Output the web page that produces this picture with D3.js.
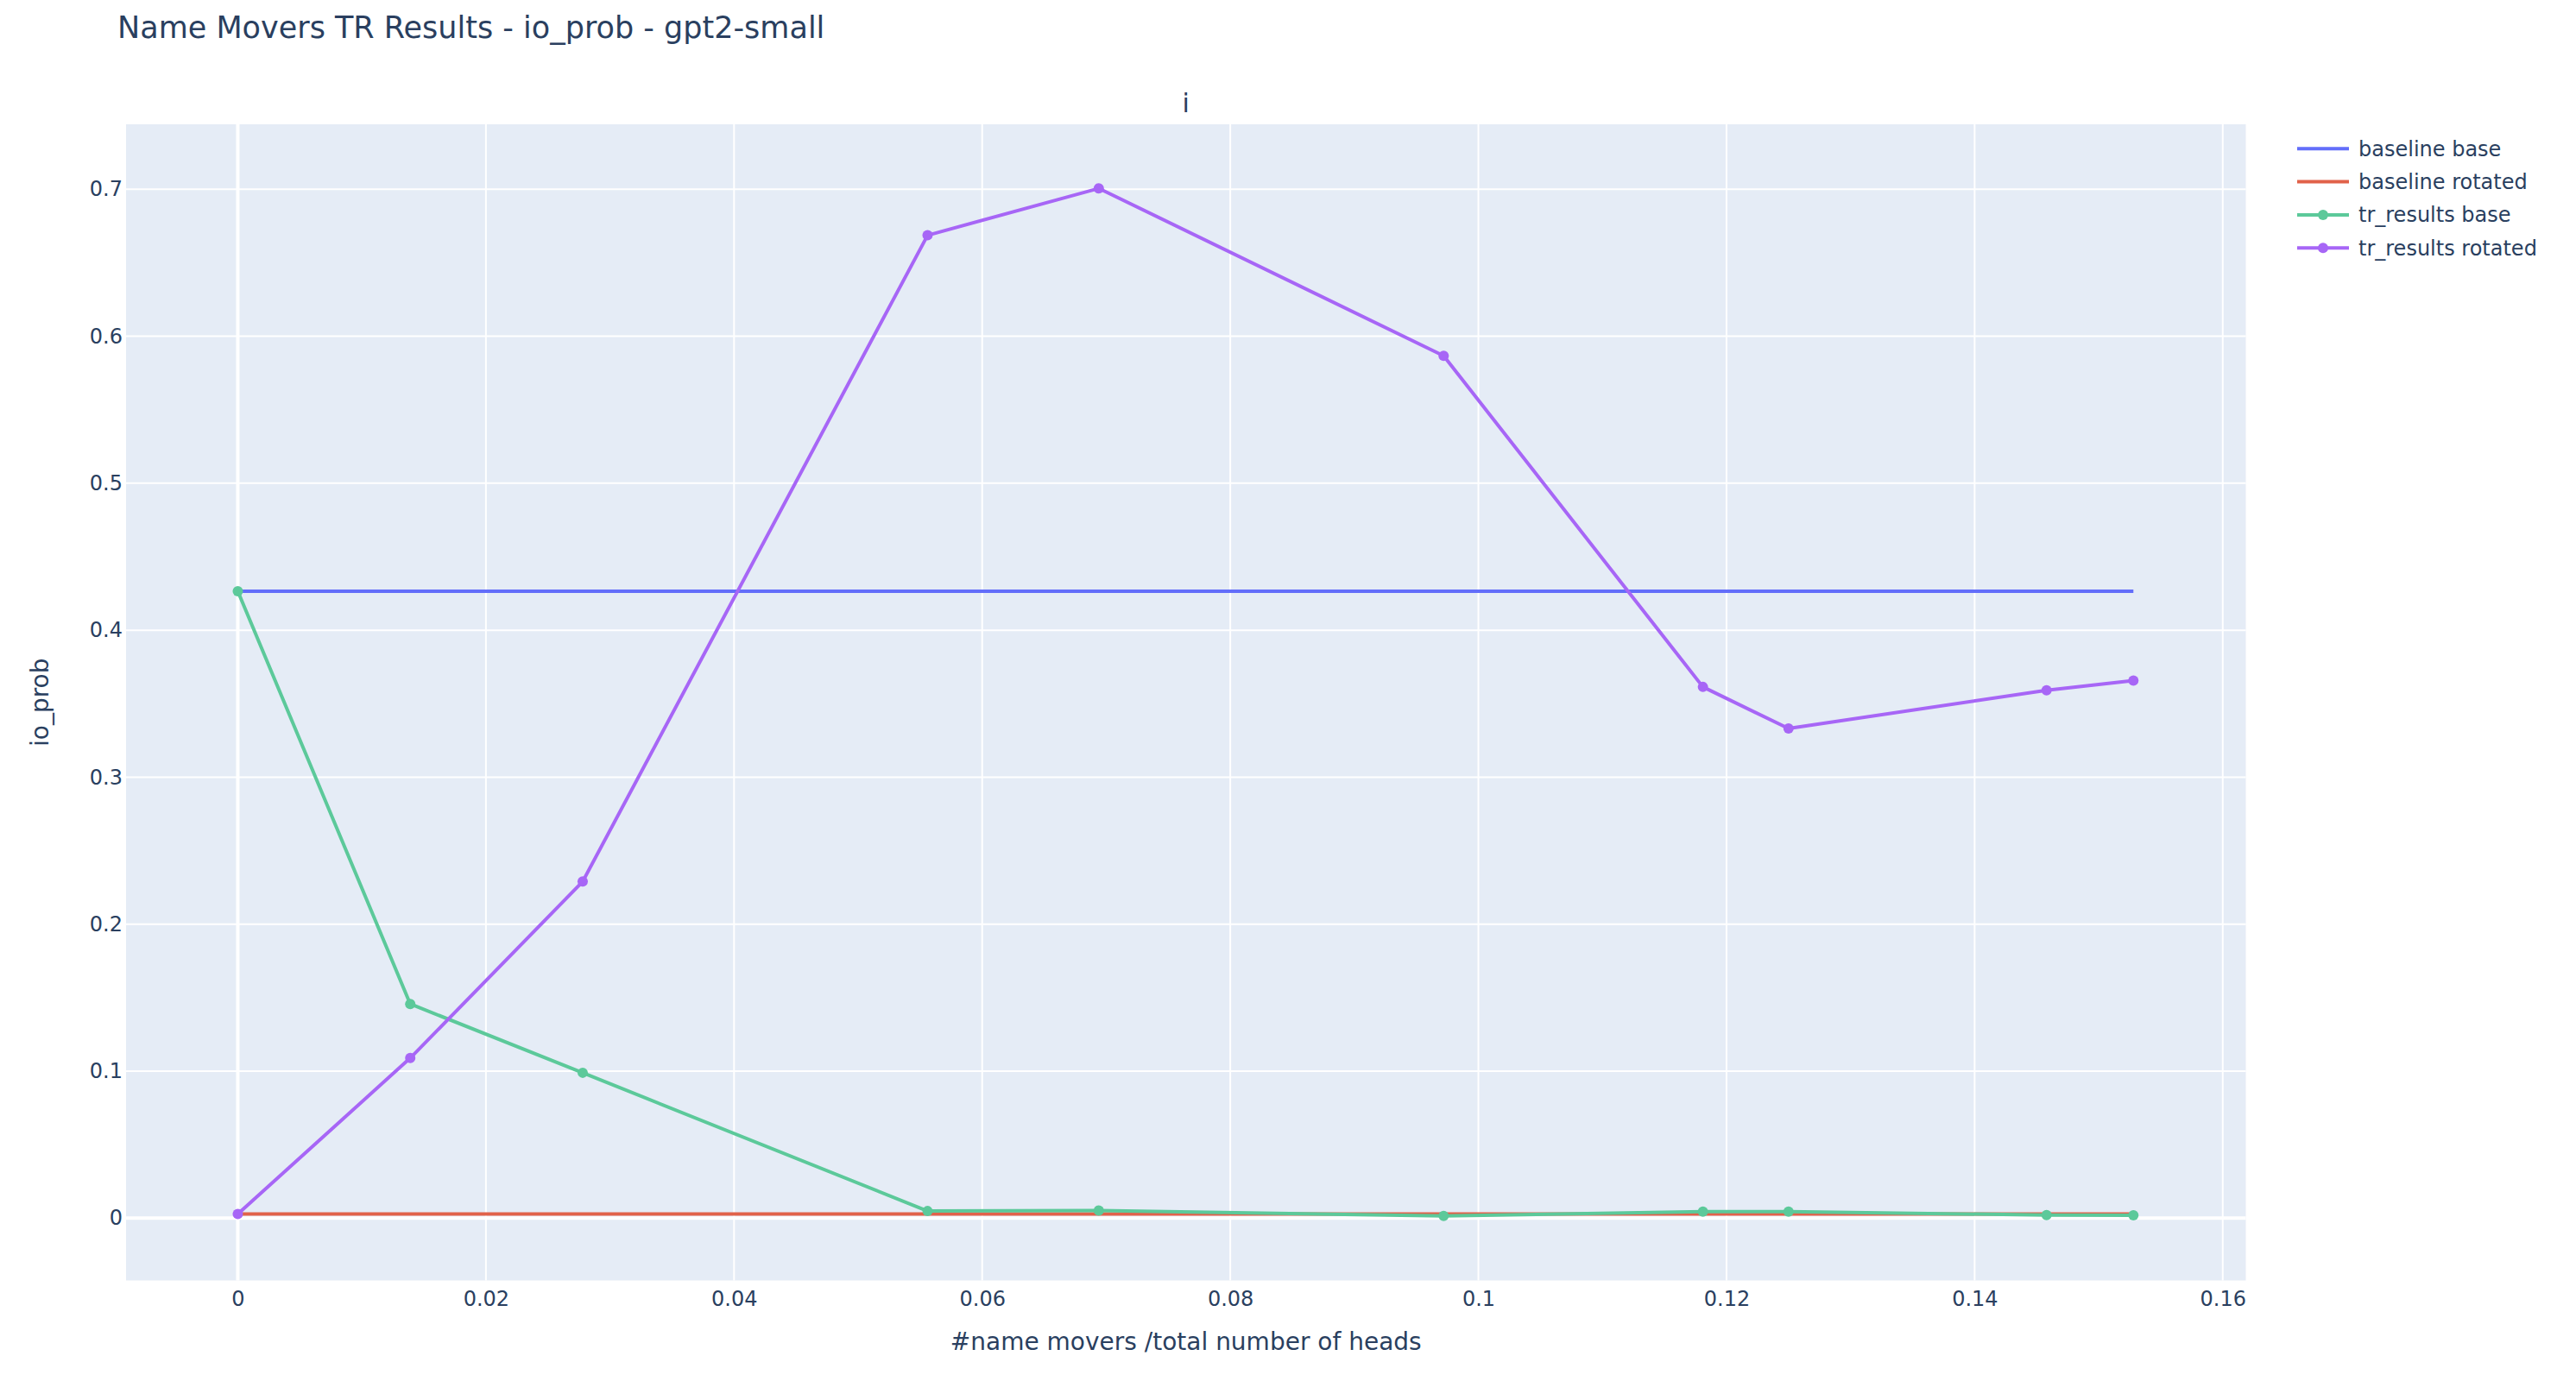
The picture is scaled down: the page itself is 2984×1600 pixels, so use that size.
<!DOCTYPE html>
<html>
<head>
<meta charset="utf-8">
<script src="https://cdn.jsdelivr.net/npm/d3@7"></script>
<style>
  html, body { margin: 0; padding: 0; background: #fff; }
  svg { display: block; }
  text { font-family: "DejaVu Sans", Verdana, sans-serif; fill: #2a3f5f; }
</style>
</head>
<body>
<svg id="chart" width="2984" height="1600"></svg>
<script>
// ---- data ----
const xValues = [0, 0.0139, 0.0278, 0.0556, 0.0694, 0.0972, 0.1181, 0.125, 0.1458, 0.1528];
const baselineBase = [0.4265, 0.4265, 0.4265, 0.4265, 0.4265, 0.4265, 0.4265, 0.4265, 0.4265, 0.4265];
const baselineRotated = [0.0028, 0.0028, 0.0028, 0.0028, 0.0028, 0.0028, 0.0028, 0.0028, 0.0028, 0.0028];
const trResultsBase = [0.4265, 0.1457, 0.0989, 0.0048, 0.0052, 0.0015, 0.0044, 0.0044, 0.0021, 0.0019];
const trResultsRotated = [0.0028, 0.1089, 0.2290, 0.6687, 0.7006, 0.5867, 0.3614, 0.3331, 0.3591, 0.3657];
const seriesNames = ["baseline base", "baseline rotated", "tr_results base", "tr_results rotated"];
const xTicks = [0, 0.02, 0.04, 0.06, 0.08, 0.1, 0.12, 0.14, 0.16];
const yTicks = [0, 0.1, 0.2, 0.3, 0.4, 0.5, 0.6, 0.7];
const xDomain = [-0.00901, 0.16186];
const yDomain = [-0.0424, 0.7442];

const series = [
  { name: seriesNames[0], values: baselineBase, color: "#636efa", markers: false },
  { name: seriesNames[1], values: baselineRotated, color: "#e1624a", markers: false },
  { name: seriesNames[2], values: trResultsBase, color: "#5cc99a", markers: true },
  { name: seriesNames[3], values: trResultsRotated, color: "#a766f6", markers: true }
];

// ---- layout ----
const plot = { left: 146, right: 2601.5, top: 144, bottom: 1483.5 };
const svg = d3.select("#chart");

const x = d3.scaleLinear().domain(xDomain).range([plot.left, plot.right]);
const y = d3.scaleLinear().domain(yDomain).range([plot.bottom, plot.top]);
const fmt = v => String(+v.toFixed(2));

svg.append("rect")
  .attr("x", plot.left).attr("y", plot.top)
  .attr("width", plot.right - plot.left).attr("height", plot.bottom - plot.top)
  .attr("fill", "#E5ECF6");

const grid = svg.append("g");
grid.selectAll("line.vx").data(xTicks).enter().append("line")
  .attr("x1", d => x(d)).attr("x2", d => x(d))
  .attr("y1", plot.top).attr("y2", plot.bottom)
  .attr("stroke", "#fff").attr("stroke-width", d => d === 0 ? 4 : 2);
grid.selectAll("line.hy").data(yTicks).enter().append("line")
  .attr("y1", d => y(d)).attr("y2", d => y(d))
  .attr("x1", plot.left).attr("x2", plot.right)
  .attr("stroke", "#fff").attr("stroke-width", d => d === 0 ? 4 : 2);

const xAxis = d3.axisBottom(x).tickValues(xTicks).tickFormat(fmt).tickSize(0).tickPadding(12);
const gx = svg.append("g").attr("transform", `translate(0,${plot.bottom})`).call(xAxis);
gx.select(".domain").remove();
gx.selectAll("text").style("font-size", "24px").attr("fill", "#2a3f5f")
  .style("font-family", '"DejaVu Sans", Verdana, sans-serif');

const yAxis = d3.axisLeft(y).tickValues(yTicks).tickFormat(fmt).tickSize(0).tickPadding(4);
const gy = svg.append("g").attr("transform", `translate(${plot.left},0)`).call(yAxis);
gy.select(".domain").remove();
gy.selectAll("text").style("font-size", "24px").attr("fill", "#2a3f5f")
  .style("font-family", '"DejaVu Sans", Verdana, sans-serif');

svg.append("clipPath").attr("id", "clip").append("rect")
  .attr("x", plot.left).attr("y", plot.top)
  .attr("width", plot.right - plot.left).attr("height", plot.bottom - plot.top);

const line = d3.line().x((d, i) => x(xValues[i])).y(d => y(d));
const traces = svg.append("g").attr("clip-path", "url(#clip)");
series.forEach(s => {
  const g = traces.append("g");
  g.append("path").datum(s.values)
    .attr("d", line).attr("fill", "none")
    .attr("stroke", s.color).attr("stroke-width", 4)
    .attr("stroke-linejoin", "round");
  if (s.markers) {
    g.selectAll("circle").data(s.values).enter().append("circle")
      .attr("cx", (d, i) => x(xValues[i])).attr("cy", d => y(d))
      .attr("r", 6).attr("fill", s.color);
  }
});

svg.append("text").attr("x", 136).attr("y", 44)
  .style("font-size", "35px").text("Name Movers TR Results - io_prob - gpt2-small");
svg.append("text").attr("x", (plot.left + plot.right) / 2).attr("y", 130)
  .attr("text-anchor", "middle").style("font-size", "30px").text("i");
svg.append("text").attr("x", (plot.left + plot.right) / 2).attr("y", 1564)
  .attr("text-anchor", "middle").style("font-size", "28px").text("#name movers /total number of heads");
svg.append("text")
  .attr("transform", `translate(56,${(plot.top + plot.bottom) / 2}) rotate(-90)`)
  .attr("text-anchor", "middle").style("font-size", "28px").text("io_prob");

const legend = svg.append("g");
const legendY0 = 172.3, legendStep = 38.3;
series.forEach((s, i) => {
  const ly = legendY0 + i * legendStep;
  legend.append("line").attr("x1", 2661).attr("x2", 2721)
    .attr("y1", ly).attr("y2", ly).attr("stroke", s.color).attr("stroke-width", 4);
  if (s.markers) {
    legend.append("circle").attr("cx", 2691).attr("cy", ly).attr("r", 6).attr("fill", s.color);
  }
  legend.append("text").attr("x", 2732).attr("y", ly).attr("dy", "0.35em")
    .style("font-size", "24px").text(s.name);
});
</script>
</body>
</html>
